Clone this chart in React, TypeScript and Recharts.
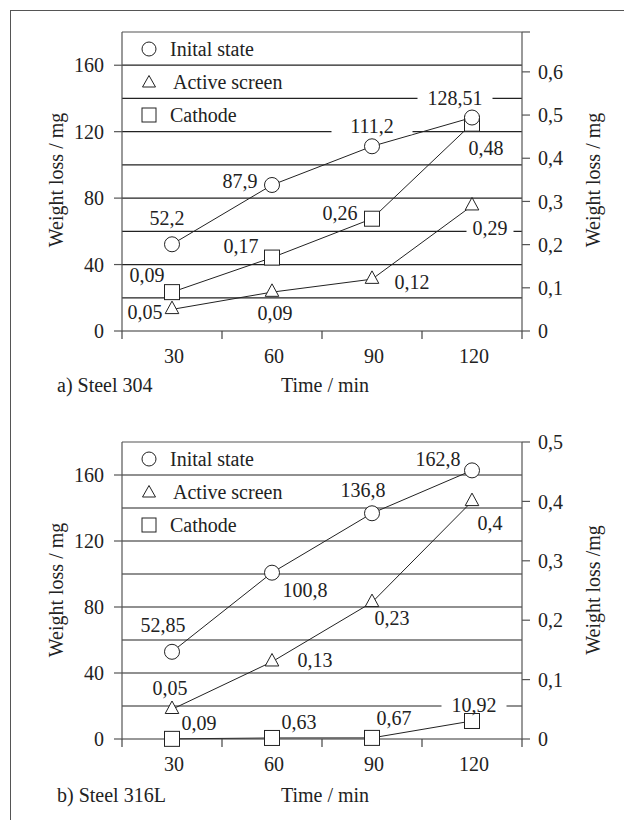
import React from "react";
import { ComposedChart, Line, XAxis, YAxis, ReferenceLine, LabelList, Legend } from "recharts";

const FONT = "Liberation Serif, DejaVu Serif, serif";
const INK = "#222";

const times = [30, 60, 90, 120];
const xTicks = [15, 30, 45, 60, 75, 90, 105, 120, 135];
const leftTicks = [0, 40, 80, 120, 160];
const gridLevels = [20, 40, 60, 80, 100, 120, 140, 160];

// a) Steel 304
const initial304 = [52.2, 87.9, 111.2, 128.51];
const active304 = [0.05, 0.09, 0.12, 0.29];
const cathode304 = [0.09, 0.17, 0.26, 0.48];
const right304Ticks = [0, 0.1, 0.2, 0.3, 0.4, 0.5, 0.6];
const right304Max = 0.6923;

// b) Steel 316L
const initial316 = [52.85, 100.8, 136.8, 162.8];
const active316 = [0.05, 0.13, 0.23, 0.4];
const cathode316 = [0.09, 0.63, 0.67, 10.92];
const right316Ticks = [0, 0.1, 0.2, 0.3, 0.4, 0.5];
const right316Max = 0.5;

// label placement: [dx, dy, white padding behind text (0 = none)]
const labels304 = {
  initial: [[-5, -26, 0], [-32, -4, 0], [0, -20, 18], [-17, -20, 10]],
  active: [[-27, 3, 0], [3, 21, 0], [40, 3, 0], [18, 22, 6]],
  cathode: [[-25, -17, 0], [-31, -12, 0], [-32, -6, 0], [14, 24, 0]],
};
const labels316 = {
  initial: [[-9, -27, 0], [33, 17, 0], [-9, -23, 0], [-34, -11, 0]],
  active: [[-2, -21, 0], [43, -2, 0], [20, 16, 0], [18, 22, 0]],
  cathode: [[27, -16, 0], [27, -16, 0], [22, -20, 0], [2, -16, 10]],
};

const fmt = (v: number) => String(v).replace(".", ",");
const textWidth = (s: string) => s.split("").reduce((w, c) => w + (c === "," ? 5 : 10), 0);

function makeLabel(place: number[][]) {
  return (props: any) => {
    const { x, y, value, index } = props;
    const [dx, dy, pad] = place[index] || [0, 0, 0];
    const s = fmt(Number(value));
    const cx = x + dx;
    const cy = y + dy;
    const w = textWidth(s);
    return (
      <g key={`lbl-${index}`}>
        {pad > 0 && <rect x={cx - w / 2 - pad} y={cy - 8} width={w + 2 * pad} height={16} fill="#fff" />}
        <text x={cx} y={cy + 7} textAnchor="middle" fontSize={20} style={{ fontFamily: FONT }} fill={INK}>
          {s}
        </text>
      </g>
    );
  };
}

const circleDot = (p: any) => (
  <circle key={`c-${p.index}`} cx={p.cx} cy={p.cy} r={7.5} fill="#fff" stroke={INK} strokeWidth={1} />
);
const triangleDot = (p: any) => (
  <polygon
    key={`t-${p.index}`}
    points={`${p.cx},${p.cy - 8.3} ${p.cx - 6.8},${p.cy + 4.2} ${p.cx + 6.8},${p.cy + 4.2}`}
    fill="#fff"
    stroke={INK}
    strokeWidth={1}
  />
);
const squareDot = (p: any) => (
  <rect key={`s-${p.index}`} x={p.cx - 7.5} y={p.cy - 7.5} width={15} height={15} fill="#fff" stroke={INK} strokeWidth={1} />
);

function XTick(props: any) {
  const { x, y, payload } = props;
  const v = payload.value;
  if (times.includes(v)) {
    return (
      <text x={x + 2} y={y + 32} textAnchor="middle" fontSize={20} style={{ fontFamily: FONT }} fill={INK}>
        {v}
      </text>
    );
  }
  return <line x1={x} x2={x} y1={y} y2={y + 8} stroke="#444" strokeWidth={1.2} />;
}

function LegendBox() {
  const rows: [string, string][] = [
    ["circle", "Inital state"],
    ["triangle", "Active screen"],
    ["square", "Cathode"],
  ];
  return (
    <div style={{ fontFamily: FONT, fontSize: 20, color: INK }}>
      {rows.map(([shape, name]) => (
        <div key={name} style={{ height: 33.3, display: "flex", alignItems: "center" }}>
          <svg width={18} height={18} style={{ display: "block" }}>
            {shape === "circle" && <circle cx={9} cy={9} r={7} fill="#fff" stroke={INK} />}
            {shape === "triangle" && <polygon points="9,2.5 2.5,14 15.5,14" fill="#fff" stroke={INK} />}
            {shape === "square" && <rect x={2} y={2} width={14} height={14} fill="#fff" stroke={INK} />}
          </svg>
          <span style={{ marginLeft: shape === "triangle" ? 15 : 12, lineHeight: "20px" }}>{name}</span>
        </div>
      ))}
    </div>
  );
}

interface PanelProps {
  top: number;
  initial: number[];
  active: number[];
  cathode: number[];
  cathodeAxis: string;
  labels: { initial: number[][]; active: number[][]; cathode: number[][] };
  rightTicks: number[];
  rightMax: number;
  xHeight: number;
  rightTitle: string;
  name: string;
}

function Panel({ top, initial, active, cathode, cathodeAxis, labels, rightTicks, rightMax, xHeight, rightTitle, name }: PanelProps) {
  const data = times.map((t, i) => ({ time: t, initial: initial[i], active: active[i], cathode: cathode[i] }));
  const rTicks = rightTicks.includes(rightMax) ? rightTicks : [...rightTicks, rightMax];
  const textStyle: React.CSSProperties = { position: "absolute", fontFamily: FONT, fontSize: 20, color: INK, whiteSpace: "nowrap" };
  const tickStyle = { fontSize: 20, fill: INK, style: { fontFamily: FONT } };
  return (
    <div style={{ position: "absolute", left: 0, top, width: 624, height: 410 }}>
      <ComposedChart width={624} height={410} data={data} margin={{ top: 32, right: 0, bottom: 0, left: 0 }} style={{ fontFamily: FONT }}>
        {gridLevels.map((v) => (
          <ReferenceLine key={v} yAxisId="left" y={v} stroke="#222" strokeWidth={1.2} />
        ))}
        <ReferenceLine yAxisId="left" y={180} stroke="#555" strokeWidth={1.2} />
        <XAxis
          dataKey="time"
          type="number"
          domain={[15, 135]}
          ticks={xTicks}
          interval={0}
          tickLine={false}
          tickSize={0}
          tickMargin={0}
          tick={<XTick />}
          height={xHeight}
          stroke="#333"
          strokeWidth={1.2}
        />
        <YAxis
          yAxisId="left"
          orientation="left"
          width={122}
          domain={[0, 180]}
          ticks={leftTicks}
          interval={0}
          tickSize={8}
          tickMargin={10}
          stroke="#555"
          strokeWidth={1.2}
          tick={tickStyle}
        />
        <YAxis
          yAxisId="right"
          orientation="right"
          width={102}
          domain={[0, rightMax]}
          ticks={rTicks}
          interval={0}
          tickSize={8}
          tickMargin={8}
          stroke="#555"
          strokeWidth={1.2}
          tickFormatter={(v: number) => (rightTicks.includes(v) ? fmt(v) : "")}
          tick={tickStyle}
        />
        <Legend
          layout="horizontal"
          align="center"
          verticalAlign="middle"
          wrapperStyle={{ left: 140, top: 32, width: 200 }}
          content={() => <LegendBox />}
        />
        <Line
          yAxisId={cathodeAxis}
          dataKey="cathode"
          stroke={INK}
          strokeWidth={1}
          dot={squareDot}
          isAnimationActive={false}
        >
          <LabelList dataKey="cathode" content={makeLabel(labels.cathode)} />
        </Line>
        <Line yAxisId="right" dataKey="active" stroke={INK} strokeWidth={1} dot={triangleDot} isAnimationActive={false}>
          <LabelList dataKey="active" content={makeLabel(labels.active)} />
        </Line>
        <Line yAxisId="left" dataKey="initial" stroke={INK} strokeWidth={1} dot={circleDot} isAnimationActive={false}>
          <LabelList dataKey="initial" content={makeLabel(labels.initial)} />
        </Line>
      </ComposedChart>
      <div style={{ ...textStyle, left: 56, top: 180, transform: "translate(-50%, -50%) rotate(-90deg)" }}>Weight loss / mg</div>
      <div style={{ ...textStyle, left: 593, top: 180, transform: "translate(-50%, -50%) rotate(-90deg)" }}>{rightTitle}</div>
      <div style={{ ...textStyle, left: 325, top: 385, transform: "translate(-50%, -50%)" }}>Time / min</div>
      <div style={{ ...textStyle, left: 57, top: 385, transform: "translate(0, -50%)" }}>{name}</div>
    </div>
  );
}

export default function App() {
  return (
    <div style={{ position: "relative", width: 624, height: 820, background: "#fff", overflow: "hidden", fontFamily: FONT }}>
      <style>{"body{margin:0}"}</style>
      <div style={{ position: "absolute", left: 10, top: 10, width: 620, height: 820, borderTop: "1.5px solid #555", borderLeft: "1.5px solid #555" }} />
      <Panel
        top={0}
        initial={initial304}
        active={active304}
        cathode={cathode304}
        cathodeAxis="right"
        labels={labels304}
        rightTicks={right304Ticks}
        rightMax={right304Max}
        xHeight={79}
        rightTitle="Weight loss / mg"
        name="a) Steel 304"
      />
      <Panel
        top={410}
        initial={initial316}
        active={active316}
        cathode={cathode316}
        cathodeAxis="left"
        labels={labels316}
        rightTicks={right316Ticks}
        rightMax={right316Max}
        xHeight={81}
        rightTitle="Weight loss /mg"
        name="b) Steel 316L"
      />
    </div>
  );
}
